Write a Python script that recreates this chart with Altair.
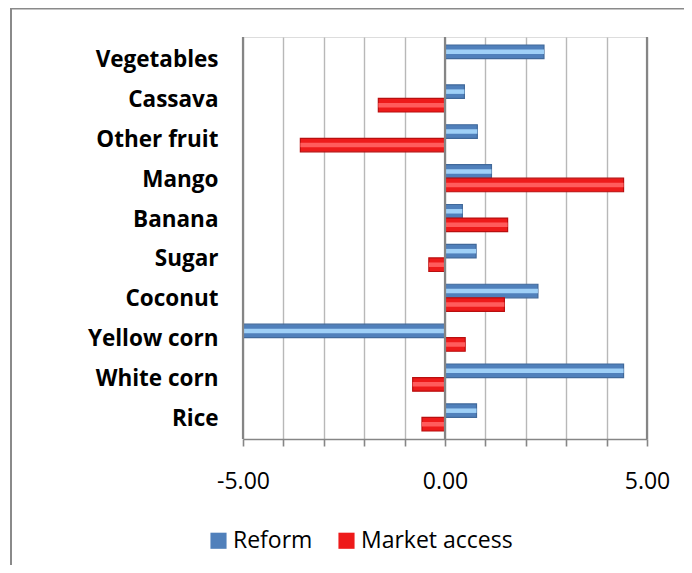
import altair as alt
import pandas as pd

categories = ["Vegetables", "Cassava", "Other fruit", "Mango", "Banana",
              "Sugar", "Coconut", "Yellow corn", "White corn", "Rice"]
series_names = ["Reform", "Market access"]
reform = [2.45, 0.48, 0.80, 1.15, 0.43, 0.77, 2.30, -5.00, 4.42, 0.78]
market_access = [None, -1.65, -3.58, 4.42, 1.55, -0.40, 1.47, 0.50, -0.80, -0.57]
x_ticks = [-5, -4, -3, -2, -1, 0, 1, 2, 3, 4, 5]
edge_lines = [-5, 0, 5]

rows = []
for c, r, m in zip(categories, reform, market_access):
    if r is not None:
        rows.append({"category": c, "series": "Reform", "value": r})
    if m is not None:
        rows.append({"category": c, "series": "Market access", "value": m})
df = pd.DataFrame(rows)

FONT = "Open Sans"
base_colors = ["#5080BB", "#EE1A1A"]
edge_colors = ["#41699A", "#B80F0F"]
light_colors = ["#9FD0F7", "#FF5C5C"]

y_enc = alt.Y("category:N", sort=categories, title=None,
              scale=alt.Scale(paddingInner=0.32, paddingOuter=0.2),
              axis=alt.Axis(labelFont=FONT, labelFontWeight="bold", labelFontSize=22.5,
                            labelColor="#000000", labelPadding=25, ticks=False,
                            labelOffset=1.5, domain=False, grid=False))
yoff = alt.YOffset("series:N", sort=series_names)

x_enc = alt.X("value:Q", title=None,
              scale=alt.Scale(domain=[-5, 5], nice=False, zero=False),
              axis=alt.Axis(values=x_ticks, grid=True, gridColor="#B8B8B8", gridWidth=1.4,
                            domainColor="#868686", domainWidth=1.6,
                            tickColor="#868686", tickWidth=1.6, tickSize=7,
                            labelFont=FONT, labelFontSize=23, labelColor="#000000",
                            labelPadding=24, labelFlush=False,
                            labelExpr="datum.value % 5 == 0 ? replace(format(datum.value, '.2f'), '\u2212', '-') : ''"))

edges = alt.Chart(pd.DataFrame({"v": edge_lines})).mark_rule(
    color="#858585", strokeWidth=2.2).encode(
    x=alt.X("v:Q", scale=alt.Scale(domain=[-5, 5], nice=False, zero=False)))

bars = alt.Chart(df).mark_bar(strokeWidth=1.2).encode(
    x=x_enc,
    y=y_enc,
    yOffset=yoff,
    color=alt.Color("series:N", sort=series_names,
                    scale=alt.Scale(domain=series_names, range=base_colors),
                    legend=alt.Legend(title=None, orient="none", direction="horizontal",
                                      legendX=-36, legendY=492,
                                      symbolType="square", symbolSize=260,
                                      symbolStrokeWidth=0,
                                      labelFont=FONT, labelFontSize=23,
                                      labelColor="#000000", labelOffset=3,
                                      columnPadding=22)),
    stroke=alt.Stroke("series:N", sort=series_names,
                      scale=alt.Scale(domain=series_names, range=edge_colors),
                      legend=None),
)

highlight = alt.Chart(df).mark_bar(height=4.5, yOffset=-2).encode(
    x="value:Q",
    y=alt.Y("category:N", sort=categories),
    yOffset=yoff,
    fill=alt.Fill("series:N", sort=series_names,
                  scale=alt.Scale(domain=series_names, range=light_colors),
                  legend=None),
)

frame_left = alt.Chart(pd.DataFrame({"a": [0]})).mark_rule(
    color="#8A8A8A", strokeWidth=2).encode(
    x=alt.value(-232), y=alt.value(-29), y2=alt.value(600))
frame_top = alt.Chart(pd.DataFrame({"a": [0]})).mark_rule(
    color="#8A8A8A", strokeWidth=2).encode(
    x=alt.value(-233), x2=alt.value(700), y=alt.value(-28.5))

chart = alt.layer(bars, highlight, edges, frame_left, frame_top).properties(
    width=404, height=402,
    autosize=alt.AutoSizeParams(type="none"),
    padding={"left": 235, "top": 29, "right": 37, "bottom": 126},
).configure_view(stroke=None).configure(background="#FFFFFF")

chart.save("out.html", embed_options={"renderer": "svg", "actions": False})
